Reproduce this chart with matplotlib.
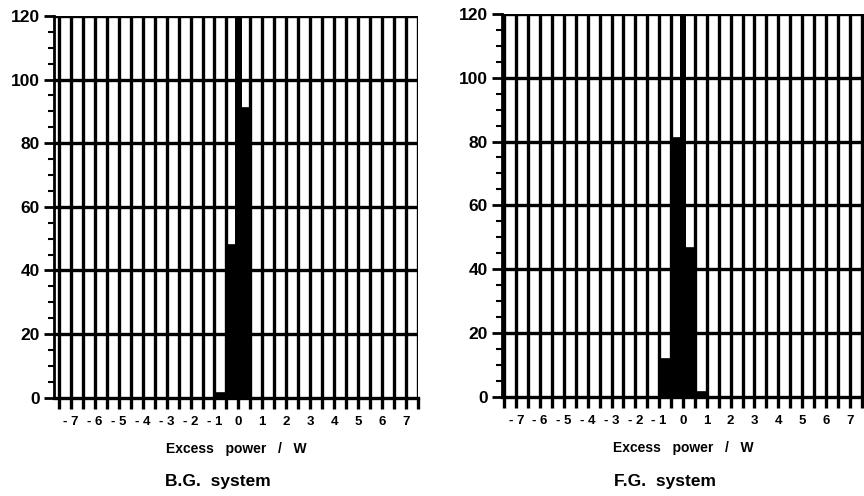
import matplotlib
matplotlib.use('Agg')
import matplotlib.pyplot as plt
from matplotlib.ticker import MultipleLocator
import numpy as np

# histogram bins (left edges, width 0.5 W)
bg_edges = [-1.0, -0.5, 0.0]
bg_counts = [1.5, 48, 91]
fg_edges = [-1.0, -0.5, 0.0, 0.5]
fg_counts = [12, 81, 46.5, 1.5]
# off-scale spike at zero
bg_spike = 125
fg_spike = 125

tick_vals = list(range(-7, 8))
tick_labels = ['- %d' % abs(v) if v < 0 else str(v) for v in tick_vals]

plt.rcParams['font.family'] = ['Liberation Sans', 'DejaVu Sans']

fig = plt.figure(figsize=(8.64, 4.96), dpi=100)


def draw_panel(ax, edges, counts, spike, xlim, xlabel, title):
    ax.set_xlim(*xlim)
    ax.set_ylim(0, 120)
    # grid: every 0.5 W vertically, every 20 counts horizontally
    for xv in np.arange(-7.5, 7.51, 0.5):
        ax.axvline(xv, color='black', lw=2.4, zorder=1)
    for yv in range(20, 121, 20):
        ax.axhline(yv, color='black', lw=2.4, zorder=1)
    ax.bar(edges, counts, width=0.5, align='edge', color='black',
           edgecolor='black', lw=1.2, zorder=2)
    ax.bar([0.0], [spike], width=0.28, align='center', color='black',
           zorder=2, clip_on=True)
    for s in ['top', 'right']:
        ax.spines[s].set_visible(False)
    ax.spines['left'].set_linewidth(2)
    ax.spines['bottom'].set_linewidth(2.4)
    ax.set_yticks(range(0, 121, 20))
    ax.yaxis.set_minor_locator(MultipleLocator(5))
    ax.tick_params(axis='y', which='major', length=7, width=2, labelsize=12.5, pad=3)
    ax.tick_params(axis='y', which='minor', length=4, width=1.5)
    for lab in ax.get_yticklabels():
        lab.set_fontweight('bold')
    ax.set_xticks(tick_vals)
    ax.set_xticklabels(tick_labels, fontsize=9.5, fontweight='bold')
    ax.xaxis.set_minor_locator(MultipleLocator(0.5))
    ax.tick_params(axis='x', which='both', length=8, width=2.4, pad=5)
    ax.text(0.5, -0.135, xlabel, transform=ax.transAxes, ha='center',
            va='center', fontsize=10, fontweight='bold')
    ax.text(0.45, -0.22, title, transform=ax.transAxes, ha='center',
            va='center', fontsize=12.5, fontweight='bold')


ax1 = fig.add_axes([0.0625, 0.198, 0.421, 0.770])
draw_panel(ax1, bg_edges, bg_counts, bg_spike, (-7.71, 7.5),
           'Excess   power   /   W', 'B.G.  system')

ax2 = fig.add_axes([0.581, 0.200, 0.419, 0.772])
draw_panel(ax2, fg_edges, fg_counts, fg_spike, (-7.6, 7.6),
           'Excess   power   /   W', 'F.G.  system')

plt.savefig('out.png', dpi=100)
